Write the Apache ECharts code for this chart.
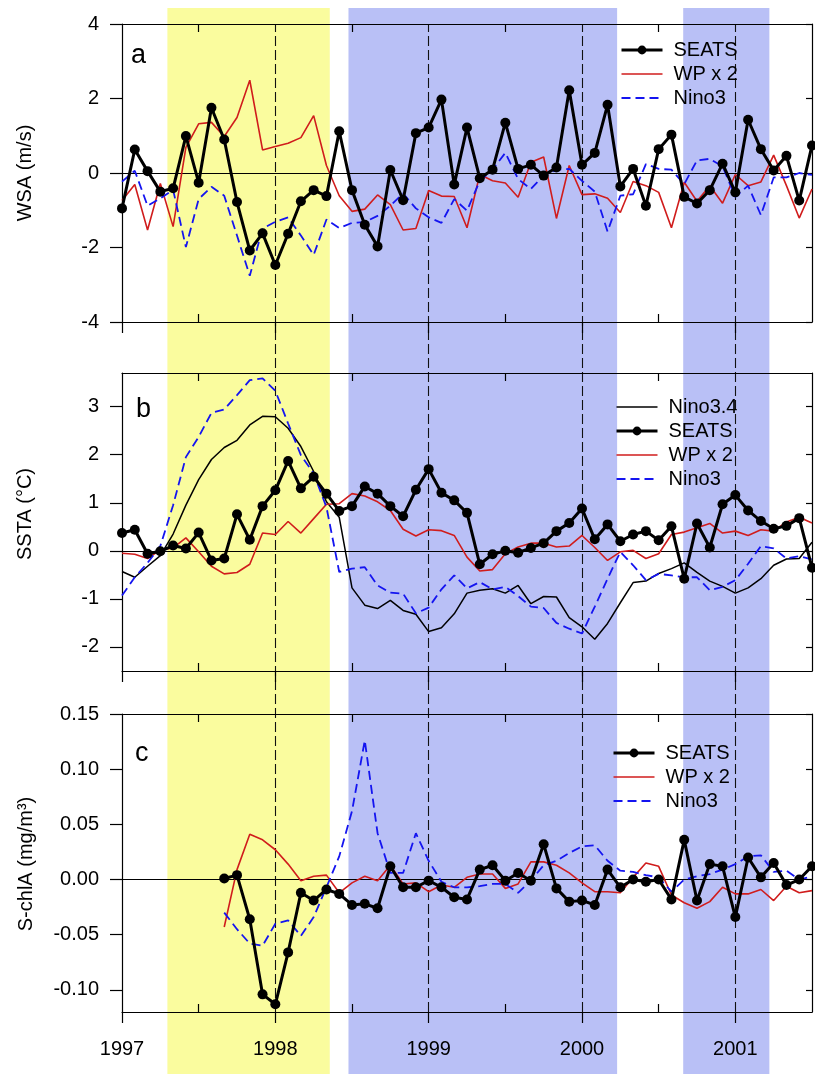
<!DOCTYPE html>
<html><head><meta charset="utf-8">
<script src="https://cdn.jsdelivr.net/npm/echarts@6/dist/echarts.min.js"></script>
<style>html,body{margin:0;padding:0;background:#fff}#c{width:815px;height:1074px}</style>
</head><body><div id="c"></div>
<script>
// ---------------- data ----------------
const startYear = 1997;               // first monthly sample (Jan 1997)
const xMin = 1997, xMax = 2001.5;
const yearTicks = [1997, 1998, 1999, 2000, 2001];
const halfYearTicks = [1997.5, 1998.5, 1999.5, 2000.5];
const eventYears = [1998, 1999, 2000, 2001];
const yellowBands = [[1997.296, 1998.355]];
const blueBands = [[1998.477, 2000.229], [2000.66, 2001.222]];
const wsaTicks = [-4, -2, 0, 2, 4];
const sstaTicks = [-2, -1, 0, 1, 2, 3];
const chlTicks = [-0.10, -0.05, 0, 0.05, 0.10, 0.15];

// panel a: WSA (m/s)
const wsaSeats = [-0.95,0.63,0.05,-0.50,-0.41,0.99,-0.26,1.75,0.90,-0.78,
  -2.08,-1.62,-2.47,-1.63,-0.76,-0.46,-0.62,1.12,-0.46,-1.39,
  -1.97,0.08,-0.73,1.07,1.22,1.97,-0.31,1.22,-0.14,0.09,
  1.35,0.11,0.22,-0.07,0.15,2.22,0.22,0.54,1.83,-0.36,
  0.11,-0.88,0.64,1.03,-0.64,-0.82,-0.46,0.25,-0.52,1.43,
  0.64,0.07,0.46,-0.74,0.74];
const wsaWP = [-0.74,-0.31,-1.53,-0.28,-1.44,0.69,1.32,1.36,0.98,1.49,
  2.49,0.62,0.71,0.80,0.95,1.54,0.20,-0.61,-1.03,-0.97,
  -0.59,-0.85,-1.53,-1.49,-0.47,-0.62,-0.63,-1.47,-0.04,-0.21,
  -0.27,-0.65,0.29,0.43,-1.22,0.20,-0.58,-0.56,-0.68,-1.06,
  -0.23,-0.34,-0.52,-1.47,-0.25,-0.76,-0.34,-0.81,-0.04,-0.34,
  -0.24,0.48,-0.34,-1.21,-0.43];
const wsaNino3 = [-0.23,0.06,-0.88,-0.68,-0.45,-1.99,-0.70,-0.37,-0.61,-1.68,
  -2.76,-1.49,-1.31,-1.19,-1.68,-2.20,-1.25,-1.48,-1.34,-1.32,
  -1.15,-0.88,-0.55,-0.95,-1.19,-1.34,-0.70,-1.01,-0.21,0.09,
  0.54,-0.16,-0.43,-0.07,0.09,0.11,-0.21,-0.50,-1.57,-0.61,
  -0.57,0.24,0.11,0.09,-0.30,0.34,0.38,0.18,-0.64,-0.34,
  -1.13,-0.12,-0.12,0.00,-0.05];

// panel b: SSTA (°C)
const sstaNino34 = [-0.43,-0.55,-0.32,-0.10,0.35,0.95,1.48,1.90,2.15,2.30,
  2.62,2.80,2.79,2.55,2.17,1.65,1.02,0.70,-0.77,-1.13,
  -1.20,-1.03,-1.24,-1.32,-1.68,-1.60,-1.31,-0.88,-0.82,-0.79,
  -0.88,-0.72,-1.10,-0.95,-0.96,-1.39,-1.58,-1.84,-1.51,-1.08,
  -0.66,-0.63,-0.47,-0.37,-0.25,-0.45,-0.63,-0.74,-0.88,-0.77,
  -0.58,-0.30,-0.17,-0.16,0.18];
const sstaSeats = [0.37,0.44,-0.06,-0.01,0.11,0.05,0.38,-0.20,-0.16,0.76,
  0.23,0.93,1.26,1.87,1.30,1.54,1.19,0.83,0.93,1.34,
  1.19,0.93,0.72,1.27,1.70,1.21,1.05,0.79,-0.28,-0.07,
  0.00,-0.04,0.06,0.16,0.41,0.58,0.88,0.24,0.55,0.20,
  0.34,0.41,0.22,0.51,-0.58,0.57,0.07,0.97,1.16,0.84,
  0.62,0.46,0.52,0.68,-0.35];
const sstaWP = [-0.05,-0.07,-0.16,0.02,0.06,0.27,-0.02,-0.32,-0.48,-0.45,
  -0.28,0.37,0.34,0.61,0.37,0.67,0.97,0.98,1.19,1.14,
  1.02,0.84,0.45,0.31,0.44,0.42,0.32,-0.13,-0.42,-0.39,
  -0.06,0.08,0.16,0.16,0.08,0.10,0.32,0.07,-0.20,-0.02,
  0.01,-0.16,-0.06,0.34,0.39,0.48,0.57,0.37,0.41,0.32,
  0.44,0.41,0.60,0.70,0.58];
const sstaNino3 = [-0.93,-0.55,-0.25,0.10,0.95,1.95,2.37,2.87,2.94,3.24,
  3.55,3.59,3.33,2.65,1.99,1.61,0.91,-0.44,-0.37,-0.34,
  -0.72,-0.87,-0.89,-1.30,-1.18,-0.80,-0.51,-0.78,-0.65,-0.80,
  -0.75,-0.94,-1.16,-1.19,-1.50,-1.62,-1.72,-1.16,-0.58,-0.02,
  -0.30,-0.61,-0.48,-0.51,-0.55,-0.55,-0.82,-0.75,-0.61,-0.27,
  0.10,0.05,-0.16,-0.11,-0.18];

// panel c: S-chlA (mg/m3)
const chlSeats = [null,null,null,null,null,null,null,null,0.001,0.004,
  -0.036,-0.104,-0.113,-0.066,-0.012,-0.019,-0.009,-0.013,-0.023,-0.022,
  -0.026,0.012,-0.007,-0.007,-0.001,-0.007,-0.016,-0.018,0.009,0.013,
  -0.001,0.006,-0.001,0.032,-0.008,-0.020,-0.019,-0.023,0.009,-0.007,
  0.000,-0.002,0.000,-0.018,0.036,-0.019,0.014,0.012,-0.034,0.020,
  0.002,0.015,-0.005,0.000,0.012];
const chlWP = [null,null,null,null,null,null,null,null,-0.043,0.009,
  0.041,0.036,0.027,0.014,-0.001,0.003,0.004,-0.012,-0.003,0.003,
  -0.001,0.013,-0.004,-0.003,-0.011,-0.005,-0.007,0.002,0.005,0.005,
  -0.008,-0.004,0.016,0.016,0.013,0.006,-0.003,-0.011,-0.011,-0.012,
  0.002,0.015,0.012,-0.014,-0.021,-0.026,-0.020,-0.007,-0.013,-0.013,
  -0.009,-0.019,-0.006,-0.012,-0.010];
const chlNino3 = [null,null,null,null,null,null,null,null,-0.030,-0.045,
  -0.058,-0.060,-0.040,-0.037,-0.051,-0.034,-0.007,0.021,0.062,0.126,
  0.042,0.006,0.006,0.042,0.017,-0.002,-0.007,-0.007,-0.006,-0.004,
  -0.004,-0.012,-0.001,0.013,0.017,0.024,0.030,0.031,0.017,0.008,
  0.007,0.004,0.002,-0.011,0.000,0.003,0.005,0.009,0.014,0.021,
  0.022,0.007,0.008,0.000,0.003];

// ---------------- styling ----------------
const FONT = 'Liberation Sans, Arial, Helvetica, sans-serif';
const RED = '#d01c1c', BLUE = '#1414f0', YELLOW = '#fafc9e', BANDBLUE = '#b9c0f6';
const AX = {color: '#000', width: 1.2};
const toXY = vals => vals.map((v, i) => [startYear + i / 12, v]);

const grids = [
  {left: 122, width: 690, top: 24, height: 298},
  {left: 122, width: 690, top: 373, height: 298},
  {left: 122, width: 690, top: 714, height: 298},
  {left: 122, width: 690, top: 8, height: 1066},   // bands
  {left: 122, width: 690, top: 24, height: 988}    // event lines
];

const xAxes = [], yAxes = [];
function panelAxes(gi, showX, yMin, yMax, ticks, fmt) {
  xAxes.push({gridIndex: gi, type: 'value', position: 'bottom', min: xMin, max: xMax, z: 6,
    axisLine: {show: true, onZero: false, lineStyle: AX},
    axisTick: {show: true, inside: false, length: 11, customValues: yearTicks, lineStyle: AX},
    axisLabel: {show: showX, customValues: yearTicks, formatter: v => String(v), margin: 27,
      fontSize: 20, color: '#000', fontFamily: FONT},
    splitLine: {show: false}});
  xAxes.push({gridIndex: gi, type: 'value', position: 'bottom', min: xMin, max: xMax, z: 6,
    axisLine: {show: false, onZero: false},
    axisTick: {show: true, inside: true, length: 8, customValues: halfYearTicks, lineStyle: AX},
    axisLabel: {show: false}, splitLine: {show: false}});
  xAxes.push({gridIndex: gi, type: 'value', position: 'top', min: xMin, max: xMax, z: 6,
    axisLine: {show: true, onZero: false, lineStyle: AX},
    axisTick: {show: true, inside: true, length: 8, customValues: halfYearTicks, lineStyle: AX},
    axisLabel: {show: false}, splitLine: {show: false}});
  yAxes.push({gridIndex: gi, type: 'value', position: 'left', min: yMin, max: yMax, z: 6,
    axisLine: {show: true, onZero: false, lineStyle: AX},
    axisTick: {show: true, inside: false, length: 12, customValues: ticks, lineStyle: AX},
    axisLabel: {show: true, customValues: ticks, formatter: fmt, margin: 23, fontSize: 20, color: '#000', fontFamily: FONT},
    splitLine: {show: false}});
  yAxes.push({gridIndex: gi, type: 'value', position: 'right', min: yMin, max: yMax, z: 6,
    axisLine: {show: true, onZero: false, lineStyle: AX},
    axisTick: {show: true, inside: true, length: 6, customValues: ticks, lineStyle: AX},
    axisLabel: {show: false}, splitLine: {show: false}});
}
panelAxes(0, false, -4, 4, wsaTicks, v => String(v));
panelAxes(1, false, -2.5, 3.7, sstaTicks, v => String(v));
panelAxes(2, true, -0.12, 0.15, chlTicks, v => v.toFixed(2));
// overlay axes (hidden)
xAxes.push({gridIndex: 3, type: 'value', min: xMin, max: xMax, show: false});
yAxes.push({gridIndex: 3, type: 'value', min: 0, max: 1, show: false});
xAxes.push({gridIndex: 4, type: 'value', min: xMin, max: xMax, show: false});
yAxes.push({gridIndex: 4, type: 'value', min: 0, max: 1, show: false});

const series = [];
const zeroLine = {silent: true, symbol: 'none', z: 4, label: {show: false},
  lineStyle: {color: '#000', width: 1.1, type: 'solid'}, data: [{yAxis: 0}]};

function seatsSeries(gi, vals) {
  return {name: 'SEATS', type: 'line', xAxisIndex: gi * 3, yAxisIndex: gi * 2, data: toXY(vals),
    symbol: 'circle', symbolSize: 10, showSymbol: true, clip: false, z: 8,
    itemStyle: {color: '#000'}, lineStyle: {color: '#000', width: 3}, emphasis: {disabled: true}};
}
function wpSeries(gi, vals) {
  return {name: 'WP x 2', type: 'line', xAxisIndex: gi * 3, yAxisIndex: gi * 2, data: toXY(vals),
    symbol: 'none', showSymbol: false, clip: false, z: 6,
    itemStyle: {color: RED}, lineStyle: {color: RED, width: 1.6}, emphasis: {disabled: true},
    markLine: zeroLine};
}
function nino3Series(gi, vals) {
  return {name: 'Nino3', type: 'line', xAxisIndex: gi * 3, yAxisIndex: gi * 2, data: toXY(vals),
    symbol: 'none', showSymbol: false, clip: false, z: 7,
    itemStyle: {color: BLUE}, lineStyle: {color: BLUE, width: 1.8, type: [9, 5]}, emphasis: {disabled: true}};
}
function nino34Series(gi, vals) {
  return {name: 'Nino3.4', type: 'line', xAxisIndex: gi * 3, yAxisIndex: gi * 2, data: toXY(vals),
    symbol: 'none', showSymbol: false, clip: false, z: 6,
    itemStyle: {color: '#000'}, lineStyle: {color: '#000', width: 1.5}, emphasis: {disabled: true}};
}

// bands and event lines
series.push({type: 'line', xAxisIndex: 9, yAxisIndex: 6, data: [], silent: true, z: 0,
  markArea: {silent: true, z: 0, label: {show: false},
    data: yellowBands.map(b => [{xAxis: b[0], itemStyle: {color: YELLOW, opacity: 1}}, {xAxis: b[1]}])
      .concat(blueBands.map(b => [{xAxis: b[0], itemStyle: {color: BANDBLUE, opacity: 1}}, {xAxis: b[1]}]))}});
series.push({type: 'line', xAxisIndex: 10, yAxisIndex: 7, data: [], silent: true, z: 3,
  markLine: {silent: true, symbol: 'none', z: 3, label: {show: false},
    lineStyle: {color: '#111', width: 1.1, type: [10, 4]},
    data: eventYears.map(y => ({xAxis: y}))}});

series.push(wpSeries(0, wsaWP), nino3Series(0, wsaNino3), seatsSeries(0, wsaSeats));
series.push(nino34Series(1, sstaNino34), wpSeries(1, sstaWP), nino3Series(1, sstaNino3), seatsSeries(1, sstaSeats));
series.push(wpSeries(2, chlWP), nino3Series(2, chlNino3), seatsSeries(2, chlSeats));

// legend entries (icon styles per entry)
const legendItems = {
  'SEATS': {name: 'SEATS', itemStyle: {color: '#000', opacity: 1}, lineStyle: {color: '#000', width: 3}},
  'WP x 2': {name: 'WP x 2', itemStyle: {opacity: 0}, lineStyle: {color: RED, width: 1.6}},
  'Nino3': {name: 'Nino3', itemStyle: {opacity: 0}, lineStyle: {color: BLUE, width: 1.8, type: [9, 5]}},
  'Nino3.4': {name: 'Nino3.4', itemStyle: {opacity: 0}, lineStyle: {color: '#000', width: 1.5}}
};
const legendText = {fontSize: 20, fontFamily: FONT, color: '#000', padding: [0, 0, 0, 6], lineHeight: 19};
function legend(left, top, names) {
  return {left: left, top: top, orient: 'vertical', padding: 0, itemWidth: 41, itemHeight: 11, itemGap: 4,
    selectedMode: false, data: names.map(n => legendItems[n]), textStyle: legendText};
}

const txt = (t, x, y, size, rot) => ({type: 'text', x: x, y: y, rotation: rot || 0, z: 20,
  style: {text: t, fontSize: size, fontFamily: FONT, fill: '#000', align: rot ? 'center' : 'left', verticalAlign: 'middle'}});

const option = {
  animation: false,
  backgroundColor: '#fff',
  grid: grids,
  xAxis: xAxes,
  yAxis: yAxes,
  legend: [
    legend(620, 40, ['SEATS', 'WP x 2', 'Nino3']),
    legend(615, 397, ['Nino3.4', 'SEATS', 'WP x 2', 'Nino3']),
    legend(612, 743, ['SEATS', 'WP x 2', 'Nino3'])
  ],
  graphic: [
    txt('a', 131, 56, 27),
    txt('b', 136, 410, 27),
    txt('c', 135, 754, 27),
    txt('WSA (m/s)', 25, 173, 20, Math.PI / 2),
    txt('SSTA (°C)', 25, 514, 20, Math.PI / 2),
    txt('S-chlA (mg/m³)', 26, 864, 20, Math.PI / 2)
  ],
  series: series
};
const chart = echarts.init(document.getElementById('c'), null, {renderer: 'canvas'});
chart.setOption(option);
</script></body></html>
